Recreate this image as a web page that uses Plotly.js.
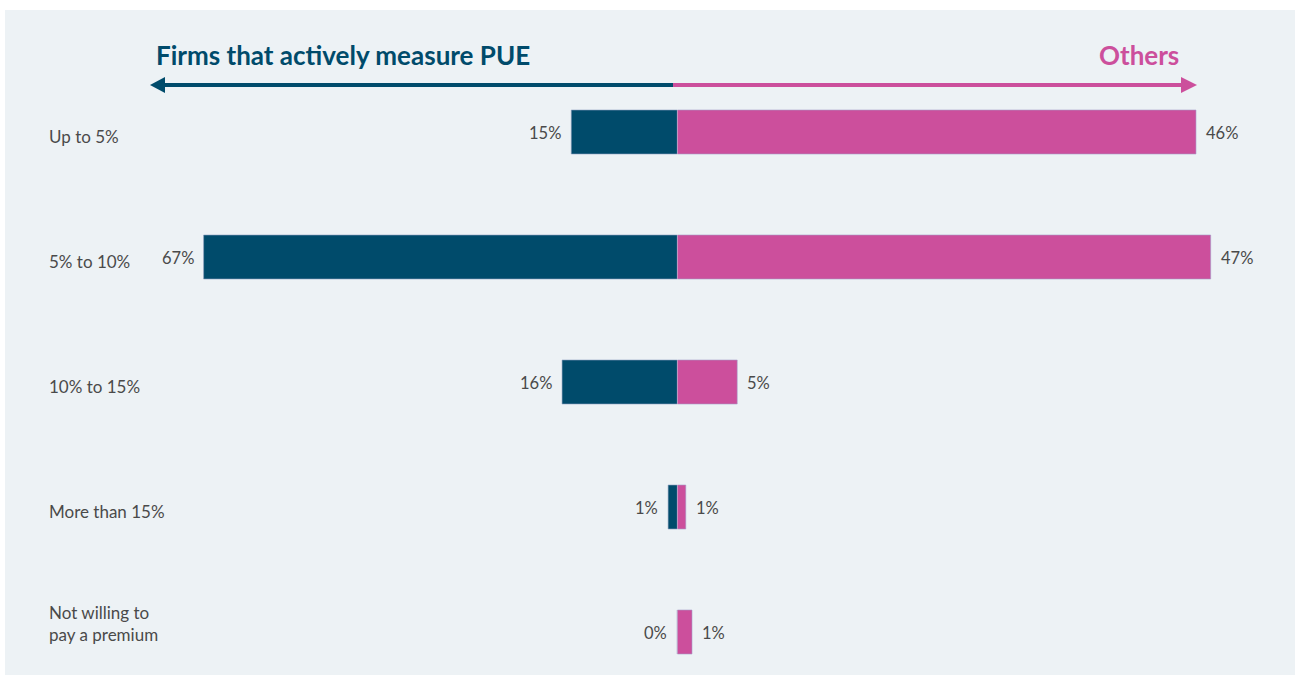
<!DOCTYPE html>
<html>
<head>
<meta charset="utf-8">
<script src="https://cdn.plot.ly/plotly-3.0.1.min.js"></script>
<style>
  html, body { margin: 0; padding: 0; background: #ffffff; }
  #chart { width: 1295px; height: 675px; }
</style>
</head>
<body>
<div id="chart"></div>
<script>
// ---- Data ----
const categories = ["Up to 5%", "5% to 10%", "10% to 15%", "More than 15%", "Not willing to<br>pay a premium"];
const firmsMeasuringPUE = [15, 67, 16.3, 1.3, 0];
const others = [45.9, 47.2, 5.3, 0.75, 1.3];
const leftTitle = "Firms that actively measure PUE";
const rightTitle = "Others";

// ---- Style ----
const W = 1295, H = 675;
const navy = "#004b6b";
const pink = "#cc4f9c";
const bg = "#edf2f5";
const textGrey = "#4a4a4a";
const fontFam = "Lato, 'Open Sans', sans-serif";
const centerPx = 677.3;
const split = centerPx / W;
const leftPxPerUnit = 7.07;
const rightPxPerUnit = 11.3;
const px = v => v / W;
const py = v => 1 - v / H;

const traces = [
  {
    type: "bar", orientation: "h",
    y: categories, x: firmsMeasuringPUE,
    xaxis: "x", yaxis: "y",
    width: 0.352,
    marker: { color: navy, line: { color: "#8fa0c0", width: 0.6 } },
    hoverinfo: "none"
  },
  {
    type: "bar", orientation: "h",
    y: categories, x: others,
    xaxis: "x2", yaxis: "y",
    width: 0.352,
    marker: { color: pink, line: { color: "#a59ac8", width: 0.6 } },
    hoverinfo: "none"
  }
];

const annotations = [];
categories.forEach(c => annotations.push({
  xref: "paper", yref: "y", x: px(47), y: c,
  yshift: c.includes("<br>") ? 8.5 : -4,
  text: c, showarrow: false, xanchor: "left", yanchor: "middle", align: "left",
  font: { family: fontFam, size: 17, color: textGrey }
}));
categories.forEach((c, i) => {
  annotations.push({
    xref: "x", yref: "y", x: firmsMeasuringPUE[i], y: c, xshift: -8, yshift: -1,
    text: Math.round(firmsMeasuringPUE[i]) + "%", showarrow: false, xanchor: "right", yanchor: "middle",
    font: { family: fontFam, size: 16.5, color: textGrey }
  });
  annotations.push({
    xref: "x2", yref: "y", x: others[i], y: c, xshift: 8, yshift: -1,
    text: Math.round(others[i]) + "%", showarrow: false, xanchor: "left", yanchor: "middle",
    font: { family: fontFam, size: 16.5, color: textGrey }
  });
});
annotations.push({
  xref: "paper", yref: "paper", x: px(154), y: py(55),
  text: "<b>" + leftTitle + "</b>", showarrow: false, xanchor: "left", yanchor: "middle",
  font: { family: fontFam, size: 26, color: navy }
});
annotations.push({
  xref: "paper", yref: "paper", x: px(1181), y: py(55),
  text: "<b>" + rightTitle + "</b>", showarrow: false, xanchor: "right", yanchor: "middle",
  font: { family: fontFam, size: 26, color: pink }
});

const shapes = [
  { type: "rect", xref: "paper", yref: "paper", x0: px(5), x1: 1, y0: 0, y1: py(10),
    fillcolor: bg, line: { width: 0 }, layer: "below" },
  { type: "line", xref: "paper", yref: "paper", x0: px(162), x1: px(673), y0: py(85), y1: py(85),
    line: { color: navy, width: 4 } },
  { type: "line", xref: "paper", yref: "paper", x0: px(673), x1: px(1184), y0: py(85), y1: py(85),
    line: { color: pink, width: 4 } },
  { type: "path", xref: "paper", yref: "paper",
    path: `M ${px(150)} ${py(85)} L ${px(165)} ${py(77)} L ${px(165)} ${py(93)} Z`,
    fillcolor: navy, line: { width: 0 } },
  { type: "path", xref: "paper", yref: "paper",
    path: `M ${px(1197)} ${py(85)} L ${px(1181)} ${py(77)} L ${px(1181)} ${py(93)} Z`,
    fillcolor: pink, line: { width: 0 } }
];

const layout = {
  width: W, height: H,
  margin: { l: 0, r: 0, t: 0, b: 0, pad: 0 },
  paper_bgcolor: "#ffffff",
  plot_bgcolor: "rgba(0,0,0,0)",
  showlegend: false,
  barmode: "overlay",
  xaxis: {
    domain: [0, split], range: [centerPx / leftPxPerUnit, 0],
    visible: false, fixedrange: true, anchor: "y"
  },
  xaxis2: {
    domain: [split, 1], range: [0, (W - centerPx) / rightPxPerUnit],
    visible: false, fixedrange: true, anchor: "y"
  },
  yaxis: {
    type: "category", domain: [0, 1],
    range: [4 + (H - 632) / 125, -132 / 125],
    visible: false, fixedrange: true
  },
  annotations: annotations,
  shapes: shapes
};

Plotly.newPlot("chart", traces, layout, { displayModeBar: false, staticPlot: true });
</script>
</body>
</html>
